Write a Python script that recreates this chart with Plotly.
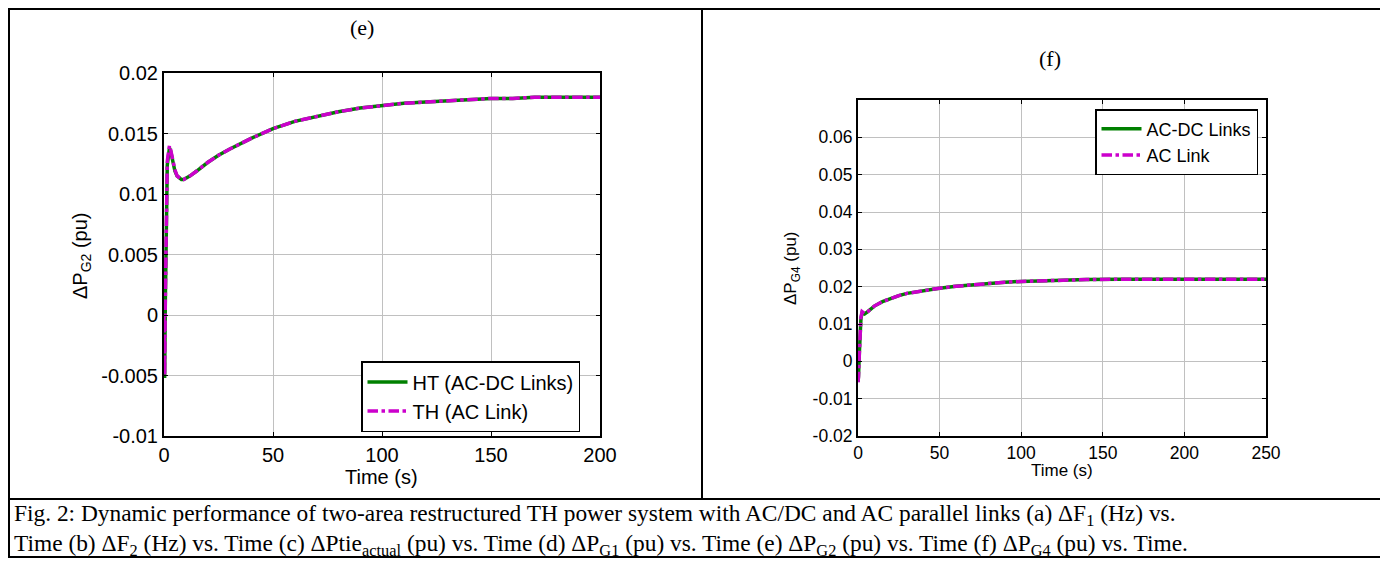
import plotly.graph_objects as go

# page body has an 8px margin: the figure starts at (8, 8) in the window
OFF = 8
W, H = 1388 - OFF, 565 - OFF

# ---------------- data ----------------
# (e) Delta P_G2
t_e = [0, 0.3, 0.6, 1.0, 1.5, 2.0, 2.5, 3.0, 4, 5, 6, 7, 8, 9, 10, 12, 15, 20, 25, 30,
       40, 50, 60, 70, 80, 90, 100, 110, 120, 130, 140, 150, 160, 170, 180, 190, 200]
pg2_acdc = [0, -0.0052, 0.0010, 0.0095, 0.0124, 0.0131, 0.0138, 0.0136, 0.0127, 0.0119,
            0.0115, 0.0113, 0.0112, 0.0112, 0.0113, 0.0115, 0.0119, 0.0126, 0.0132, 0.0137,
            0.0146, 0.0154, 0.0160, 0.0164, 0.0168, 0.0171, 0.0173, 0.0175, 0.0176, 0.0177,
            0.0178, 0.0179, 0.0179, 0.0180, 0.0180, 0.0180, 0.0180]
pg2_ac = [0, -0.0050, 0.0012, 0.0098, 0.0127, 0.0134, 0.0140, 0.0137, 0.0128, 0.0120,
          0.0115, 0.0113, 0.0112, 0.0112, 0.0113, 0.0115, 0.0119, 0.0126, 0.0132, 0.0137,
          0.0146, 0.0154, 0.0160, 0.0164, 0.0168, 0.0171, 0.0173, 0.0175, 0.0176, 0.0177,
          0.0178, 0.0179, 0.0179, 0.0180, 0.0180, 0.0180, 0.0180]

# (f) Delta P_G4
t_f = [0, 0.3, 0.8, 1.3, 1.8, 2.5, 4, 6, 8, 10, 15, 20, 25, 30, 40, 50, 60, 70, 80, 90,
       100, 120, 140, 160, 180, 200, 225, 250]
pg4_acdc = [-0.0055, -0.0040, 0.0020, 0.0080, 0.0115, 0.0130, 0.0127, 0.0133, 0.0140,
            0.0148, 0.0160, 0.0169, 0.0176, 0.0182, 0.0190, 0.0196, 0.0201, 0.0205, 0.0209,
            0.0212, 0.0214, 0.0217, 0.0219, 0.0220, 0.0220, 0.0220, 0.0220, 0.0220]
pg4_ac = [-0.0056, -0.0042, 0.0018, 0.0082, 0.0118, 0.0133, 0.0128, 0.0133, 0.0140,
          0.0148, 0.0160, 0.0169, 0.0176, 0.0182, 0.0190, 0.0196, 0.0201, 0.0205, 0.0209,
          0.0212, 0.0214, 0.0217, 0.0219, 0.0220, 0.0220, 0.0220, 0.0220, 0.0220]

xticks_e = [0, 50, 100, 150, 200]
yticks_e = [-0.01, -0.005, 0, 0.005, 0.01, 0.015, 0.02]
ytext_e = ["-0.01", "-0.005", "0", "0.005", "0.01", "0.015", "0.02"]
xticks_f = [0, 50, 100, 150, 200, 250]
yticks_f = [-0.02, -0.01, 0, 0.01, 0.02, 0.03, 0.04, 0.05, 0.06]
ytext_f = ["-0.02", "-0.01", "0", "0.01", "0.02", "0.03", "0.04", "0.05", "0.06"]

GREEN = "#008000"
MAGENTA = "#cc00cc"
SANS = "Liberation Sans, Arial, sans-serif"
SERIF = "Liberation Serif, Times New Roman, serif"
FS_E = 20     # fonts of panel (e)
FS_F = 17.5   # fonts of panel (f)


def px(x):
    return (x - OFF) / W


def py(y):
    return 1 - (y - OFF) / H


fig = go.Figure()
fig.add_trace(go.Scatter(x=t_e, y=pg2_acdc, mode="lines", name="HT (AC-DC Links)",
                         line=dict(color=GREEN, width=3.5), xaxis="x", yaxis="y",
                         legend="legend"))
fig.add_trace(go.Scatter(x=t_e, y=pg2_ac, mode="lines", name="TH (AC Link)",
                         line=dict(color=MAGENTA, width=3.5, dash="dashdot"),
                         xaxis="x", yaxis="y", legend="legend"))
fig.add_trace(go.Scatter(x=t_f, y=pg4_acdc, mode="lines", name="AC-DC Links",
                         line=dict(color=GREEN, width=3.5), xaxis="x2", yaxis="y2",
                         legend="legend2"))
fig.add_trace(go.Scatter(x=t_f, y=pg4_ac, mode="lines", name="AC Link",
                         line=dict(color=MAGENTA, width=3.5, dash="dashdot"),
                         xaxis="x2", yaxis="y2", legend="legend2"))


def axis_style(fs):
    return dict(showline=True, linecolor="black", linewidth=2, mirror="ticks",
                ticks="inside", ticklen=4, tickcolor="black", tickwidth=1,
                showgrid=True, gridcolor="#c0c0c0", gridwidth=1, zeroline=False,
                automargin=False,
                tickfont=dict(family=SANS, size=fs, color="black"))


def legend_style(fs):
    return dict(bgcolor="white", bordercolor="black", borderwidth=1.5,
                font=dict(family=SANS, size=fs, color="black"), tracegroupgap=0,
                itemwidth=40)


fig.update_layout(
    width=W, height=H,
    margin=dict(l=0, r=0, t=0, b=0, pad=0, autoexpand=False),
    paper_bgcolor="white", plot_bgcolor="white",
    xaxis=dict(domain=[px(164), px(600)], range=[0, 200], tickvals=xticks_e,
               anchor="y", **axis_style(FS_E)),
    yaxis=dict(domain=[py(436), py(73)], range=[-0.01, 0.02], tickvals=yticks_e,
               ticktext=ytext_e, anchor="x", **axis_style(FS_E)),
    xaxis2=dict(domain=[px(858), px(1266)], range=[0, 250], tickvals=xticks_f,
                anchor="y2", **axis_style(FS_F)),
    yaxis2=dict(domain=[py(436), py(100)], range=[-0.02, 0.07], tickvals=yticks_f,
                ticktext=ytext_f, anchor="x2", **axis_style(FS_F)),
    legend=dict(x=px(580), y=py(432), xanchor="right", yanchor="bottom",
                **legend_style(20)),
    legend2=dict(x=px(1258), y=py(109), xanchor="right", yanchor="top",
                 **legend_style(18)),
    showlegend=True,
)

ann = []
# titles
ann.append(dict(text="(e)", x=px(362), y=py(27), font=dict(family=SERIF, size=22)))
ann.append(dict(text="(f)", x=px(1050), y=py(58), font=dict(family=SERIF, size=22)))
# axis titles
ann.append(dict(text="Time (s)", x=px(381), y=py(477), font=dict(family=SANS, size=FS_E)))
ann.append(dict(text="Time (s)", x=px(1062), y=py(470), font=dict(family=SANS, size=17)))
ann.append(dict(text="ΔP<sub>G2</sub> (pu)", x=px(82), y=py(256), textangle=-90,
                font=dict(family=SANS, size=FS_E)))
ann.append(dict(text="ΔP<sub>G4</sub> (pu)", x=px(792), y=py(268), textangle=-90,
                font=dict(family=SANS, size=17)))
# caption
cap1 = ("Fig. 2: Dynamic performance of two-area restructured TH power system with AC/DC "
        "and AC parallel links (a) ΔF<sub>1</sub> (Hz) vs.")
cap2 = ("Time (b) ΔF<sub>2</sub> (Hz) vs. Time (c) ΔPtie<sub>actual</sub> (pu) vs. Time "
        "(d) ΔP<sub>G1</sub> (pu) vs. Time (e) ΔP<sub>G2</sub> (pu) vs. Time "
        "(f) ΔP<sub>G4</sub> (pu) vs. Time.")
ann.append(dict(text=cap1 + "<br>" + cap2, x=px(12), y=py(530), xanchor="left",
                align="left", font=dict(family=SERIF, size=23.4)))

for a in ann:
    a.setdefault("xanchor", "center")
    a.update(xref="paper", yref="paper", yanchor="middle", showarrow=False)
    a["font"]["color"] = "black"
fig.update_layout(annotations=ann)

# table borders (the right edge of the table lies outside the picture)
line = dict(color="black", width=2)
shapes = [
    dict(type="rect", x0=px(9), x1=px(1395), y0=py(9), y1=py(557), line=line),
    dict(type="line", x0=px(702), x1=px(702), y0=py(9), y1=py(499), line=line),
    dict(type="line", x0=px(9), x1=px(1395), y0=py(499), y1=py(499), line=line),
]
for s in shapes:
    s.update(xref="paper", yref="paper", layer="below")
fig.update_layout(shapes=shapes)

fig.write_html("out.html")
